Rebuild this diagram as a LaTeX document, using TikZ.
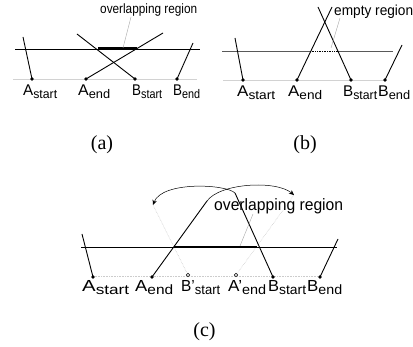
\documentclass[tikz,border=0pt]{standalone}
\usepackage{fontspec}
\setmainfont{Liberation Serif}
\setsansfont{Liberation Sans}
\usetikzlibrary{arrows.meta}
% width, main letter, subscript
\newcommand\lblA[3]{\resizebox{#1pt}{\height}{\sffamily\fontsize{15.5}{15.5}\selectfont #2\raisebox{-3pt}{\fontsize{12.5}{12.5}\selectfont #3}}}
\newcommand\lblC[3]{\resizebox{#1pt}{\height}{\sffamily\fontsize{16}{16}\selectfont #2\raisebox{-3pt}{\fontsize{13.5}{13.5}\selectfont #3}}}
\newcommand\notetext[3]{\resizebox{#1pt}{\height}{\sffamily\fontsize{#2}{#2}\selectfont #3}}
\begin{document}
\begin{tikzpicture}[x=1pt,y=-1pt,
  mainline/.style={black,line width=0.8pt},
  faint/.style={gray!35,line width=0.6pt},
  seg/.style={black,line width=0.9pt},
  callout/.style={gray!70,line width=0.4pt},
  bar/.style={black,line width=2.4pt},
  dotpt/.style={circle,fill=black,inner sep=0pt,minimum size=3.6pt},
  opendot/.style={circle,draw=black,fill=white,line width=0.5pt,inner sep=0pt,minimum size=3.6pt},
  lab/.style={anchor=base west,inner sep=0pt},
  capt/.style={font=\fontsize{20}{20}\selectfont,inner sep=0pt},
  note/.style={inner sep=0pt},
  arr/.style={black,line width=0.5pt,-{Stealth[length=5pt,width=4.5pt]}}
]
\useasboundingbox (0,0) rectangle (413,347);
% ---------- (a) ----------
\coordinate (aL) at (15,49.5); \coordinate (aR) at (200,49.5);
\coordinate (afL) at (13,79); \coordinate (afR) at (197,79);
\draw[faint] (afL) -- (afR);
\draw[mainline] (aL) -- (aR);
\node[dotpt] (aAs) at (32,79) {};
\node[dotpt] (aAe) at (86,79) {};
\node[dotpt] (aBs) at (135,79) {};
\node[dotpt] (aBe) at (177,79) {};
\coordinate (aAsT) at (23,37);
\coordinate (aAeT) at (163,33);
\coordinate (aBsT) at (77,34);
\coordinate (aBeT) at (193,43);
\draw[seg] (aAsT) -- (aAs.center);
\draw[seg] (aAe.center) -- (aAeT);
\draw[seg] (aBsT) -- (aBs.center);
\draw[seg] (aBe.center) -- (aBeT);
\coordinate (abL) at (98,48.3); \coordinate (abR) at (137,48.3);
\draw[bar] (abL) -- (abR);
\node[note,anchor=base west] (aNote) at (100,14) {\notetext{97}{13.5}{overlapping region}};
\coordinate (aCo) at (123,48);
\coordinate (aCoT) at (131,17);
\draw[callout] (aCo) -- (aCoT);
\node[lab] (laAs) at (23,96) {\lblA{34}{A}{start}};
\node[lab] (laAe) at (78,96) {\lblA{32}{A}{end}};
\node[lab] (laBs) at (132,96) {\lblA{30}{B}{start}};
\node[lab] (laBe) at (173,96) {\lblA{27}{B}{end}};
\node[capt] (capa) at (102,145) {(a)};
% ---------- (b) ----------
\coordinate (bL) at (222,51.7); \coordinate (bM1) at (310,51.7);
\coordinate (bM2) at (338,51.7); \coordinate (bR) at (393,51.7);
\draw[faint] (223,80) -- (387,80);
\draw[black!65,line width=1.1pt] (bL) -- (bM1);
\draw[black!65,line width=1.1pt] (bM2) -- (bR);
\draw[black,line width=0.7pt,densely dotted] (bM1) -- (bM2);
\node[dotpt] (bAs) at (243,80) {};
\node[dotpt] (bAe) at (297,80) {};
\node[dotpt] (bBs) at (351,80) {};
\node[dotpt] (bBe) at (385,80) {};
\coordinate (bAsT) at (235,38);
\coordinate (bAeT) at (332,7);
\coordinate (bBsT) at (318,7);
\coordinate (bBeT) at (402,45);
\draw[seg] (bAsT) -- (bAs.center);
\draw[seg] (bAe.center) -- (bAeT);
\draw[seg] (bBsT) -- (bBs.center);
\draw[seg] (bBe.center) -- (bBeT);
\node[note,anchor=base west] (bNote) at (334,16) {\notetext{79}{14.5}{empty region}};
\coordinate (bCo) at (331,48);
\coordinate (bCoT) at (340,18);
\draw[callout] (bCo) -- (bCoT);
\node[lab] (lbAs) at (237,96.5) {\lblA{38}{A}{start}};
\node[lab] (lbAe) at (288,96.5) {\lblA{34}{A}{end}};
\node[lab] (lbBs) at (343,96.5) {\lblA{34}{B}{start}};
\node[lab] (lbBe) at (378,96.5) {\lblA{32}{B}{end}};
\node[capt] (capb) at (305,145) {(b)};
% ---------- (c) ----------
\coordinate (cL) at (81,247.3); \coordinate (cR) at (337,247.3);
\draw[gray!40,line width=0.6pt,densely dotted] (93,276.7) -- (320,276.7);
\draw[mainline] (cL) -- (cR);
\node[dotpt] (cAs) at (93,277) {};
\node[dotpt] (cAe) at (152,277) {};
\node[opendot] (cBps) at (188,275) {};
\node[opendot] (cAps) at (236,275) {};
\node[dotpt] (cBs) at (273,277) {};
\node[dotpt] (cBe) at (320,277) {};
\coordinate (cAsT) at (82,234);
\coordinate (cAeT) at (207,201);
\coordinate (cBsT) at (235,193);
\coordinate (cBeT) at (338,239);
\coordinate (cArr1) at (153,205);
\coordinate (cArr2) at (294,195);
\draw[gray!50,line width=0.5pt,densely dotted] (cBps) -- (cArr1);
\draw[gray!50,line width=0.5pt,densely dotted] (cAps) -- (cArr2);
\draw[seg] (cAsT) -- (cAs.center);
\draw[seg] (cAe.center) -- (cAeT);
\draw[seg] (cBsT) -- (cBs.center);
\draw[seg] (cBe.center) -- (cBeT);
\draw[arr] (cBsT) .. controls (226,184) and (162,181) .. (cArr1);
\draw[arr] (cAeT) .. controls (220,183) and (276,180) .. (cArr2);
\coordinate (cbL) at (174,247); \coordinate (cbR) at (257,247);
\draw[bar,line width=2.8pt] (cbL) -- (cbR);
\node[note,anchor=base west] (cNote) at (214,211) {\notetext{129}{16.5}{overlapping region}};
\coordinate (cCo) at (240,246);
\coordinate (cCoT) at (253,214);
\draw[callout] (cCo) -- (cCoT);
\node[lab] (lcAs) at (82,292) {\lblC{47}{A}{start}};
\node[lab] (lcAe) at (135,292) {\lblC{38}{A}{end}};
\node[lab] (lcBps) at (181,292) {\lblC{39}{B'}{start}};
\node[lab] (lcAps) at (228,292) {\lblC{38}{A'}{end}};
\node[lab] (lcBs) at (268,292) {\lblC{38}{B}{start}};
\node[lab] (lcBe) at (307,292) {\lblC{35}{B}{end}};
\node[capt] (capc) at (204.5,332) {(c)};
\end{tikzpicture}
\end{document}
